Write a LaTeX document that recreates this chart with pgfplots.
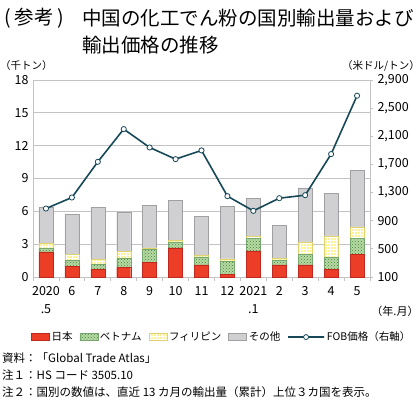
\documentclass[border=0pt]{standalone}
\usepackage{fontspec}
\setmainfont{Noto Sans CJK JP}
\usepackage{pgfplots}
\usepackage{pgfplotstable}
\pgfplotsset{compat=1.18}
\usetikzlibrary{patterns}

\definecolor{jpred}{RGB}{236,62,38}
\definecolor{jpredd}{RGB}{190,40,30}
\definecolor{vngreen}{RGB}{60,130,50}
\definecolor{vnlight}{RGB}{185,218,165}
\definecolor{phyel}{RGB}{253,243,150}
\definecolor{phyeld}{RGB}{225,210,110}
\definecolor{othgray}{RGB}{208,208,210}
\definecolor{othgrayd}{RGB}{160,160,162}
\definecolor{fob}{RGB}{22,72,88}
\definecolor{gridc}{RGB}{195,195,195}

\pgfplotsset{
  barleg/.style={legend image code/.code={\draw[##1] (0pt,-3.5pt) rectangle (18pt,3.5pt);}},
  lineleg/.style={legend image code/.code={\draw[##1, mark repeat=2, mark phase=2] plot coordinates {(0pt,0pt) (11pt,0pt) (22pt,0pt)};}},
}

\pgfplotstableread{
x  jp    vn    ph    ot
0  2.29  0.31  0.45  3.35
1  1.00  0.50  0.55  3.68
2  0.73  0.43  0.43  4.78
3  0.85  0.83  0.64  3.63
4  1.31  1.22  0.12  3.90
5  2.65  0.49  0.18  3.69
6  1.10  0.73  0.15  3.57
7  0.27  1.13  0.25  4.81
8  2.38  1.12  0.22  3.48
9  1.10  0.42  0.16  3.05
10 1.10  0.97  1.13  4.94
11 0.73  1.04  1.98  3.87
12 2.07  1.43  1.07  5.19
}\bars

\pgfplotstableread{
x  fob
0  1073
1  1230
2  1737
3  2202
4  1941
5  1775
6  1899
7  1249
8  1040
9  1220
10 1263
11 1847
12 2677
}\price

\begin{document}
\begin{tikzpicture}[x=1pt,y=1pt]
\useasboundingbox (0,0) rectangle (420,399);

% title
\node[anchor=west,inner sep=0] at (4,381) {\fontsize{19.5}{22}\selectfont (\hspace{4pt}参考\hspace{4pt})};
\node[anchor=west,inner sep=0] at (82,381) {\fontsize{19.5}{22}\selectfont 中国の化工でん粉の国別輸出量および};
\node[anchor=west,inner sep=0] at (82,354) {\fontsize{19.5}{22}\selectfont 輸出価格の推移};

% unit labels
\node[anchor=west,inner sep=0] at (0,333) {\fontsize{10.5}{12}\selectfont （千トン）};
\node[anchor=east,inner sep=0] at (420,333) {\fontsize{10.5}{12}\selectfont （米ドル/トン）};
\node[anchor=center,inner sep=0] at (395,88) {\fontsize{11}{12}\selectfont （年.月）};

\begin{axis}[
  at={(33pt,122pt)}, anchor=south west,
  scale only axis, width=337pt, height=197pt,
  xmin=-0.5, xmax=12.5, ymin=0, ymax=18,
  ytick={0,3,...,18},
  ymajorgrids, grid style={gridc, line width=0.8pt},
  axis x line*=bottom, axis y line*=left,
  axis line style={gridc, line width=0.8pt, -},
  xtick={0,...,12},
  xticklabels={{2020\\.5},6,7,8,9,10,11,12,{2021\\.1},2,3,4,5},
  major x tick style={draw=none},
  minor xtick={-0.5,0.5,...,12.5},
  minor tick length=4pt,
  xtick align=outside,
  minor x tick style={gridc, line width=0.8pt},
  y tick style={draw=none},
  xticklabel style={align=center, font=\fontsize{12.5}{18}\selectfont, yshift=-2pt},
  yticklabel style={font=\fontsize{12.5}{14}\selectfont, xshift=-1pt},
  /pgf/number format/assume math mode=true,
  ybar stacked, bar width=14pt,
  legend style={draw=none, at={(0.56,-0.305)}, anchor=center,
     legend columns=-1, font=\fontsize{10.5}{12}\selectfont,
     /tikz/every even column/.append style={column sep=5pt},
     inner sep=0pt},
  legend cell align=left,
]
\addplot[fill=jpred, draw=jpredd, line width=0.4pt, barleg]
  table[x=x,y=jp]{\bars};
\addplot[fill=vnlight, draw=vngreen!70, line width=0.4pt,
  postaction={pattern=crosshatch dots, pattern color=vngreen}, barleg]
  table[x=x,y=vn]{\bars};
\addplot[fill=phyel, draw=phyeld, line width=0.4pt,
  postaction={pattern=grid, pattern color=white}, barleg]
  table[x=x,y=ph]{\bars};
\addplot[fill=othgray, draw=othgrayd, line width=0.4pt, barleg]
  table[x=x,y=ot]{\bars};
\addlegendimage{lineleg, fob, line width=1.6pt, mark=*, mark size=2.5pt,
  mark options={fill=white, draw=fob, line width=0.8pt}}
\legend{日本,ベトナム,フィリピン,その他,FOB価格（右軸）}
\end{axis}

\begin{axis}[
  at={(33pt,122pt)}, anchor=south west,
  scale only axis, width=337pt, height=197pt,
  xmin=-0.5, xmax=12.5, ymin=100, ymax=2900,
  ytick={100,500,...,2900},
  axis y line*=right, axis x line=none,
  axis line style={gridc, line width=0.8pt, -},
  ytick align=outside, major tick length=3pt,
  y tick style={gridc, line width=0.8pt},
  yticklabel style={font=\fontsize{12.5}{14}\selectfont, xshift=1pt},
  /pgf/number format/assume math mode=true,
  /pgf/number format/1000 sep={,},
  clip=false,
]
\addplot[fob, line width=1.6pt, mark=*, mark size=2.6pt,
  mark options={fill=white, draw=fob, line width=0.8pt}]
  table[x=x,y=fob]{\price};
\end{axis}

% notes
\node[anchor=west,inner sep=0] at (2,41) {\fontsize{11.5}{13}\selectfont 資料：「Global Trade Atlas」};
\node[anchor=west,inner sep=0] at (2,24) {\fontsize{11.5}{13}\selectfont 注１：HS コード 3505.10};
\node[anchor=west,inner sep=0] at (2,7) {\fontsize{11.5}{13}\selectfont 注２：国別の数値は、直近 13 カ月の輸出量（累計）上位３カ国を表示。};
\end{tikzpicture}
\end{document}
